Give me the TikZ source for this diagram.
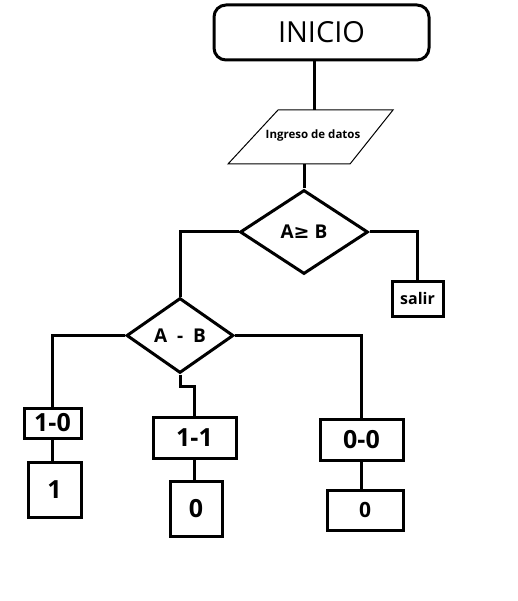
\documentclass[tikz,border=0pt]{standalone}
\usepackage{fontspec}
\setmainfont{Open Sans}
\newfontfamily\symfont{DejaVu Sans}
\usetikzlibrary{shapes.geometric}
\begin{document}
\begin{tikzpicture}[x=1pt,y=-1pt,line width=3pt,
	caja/.style={draw,rectangle,inner sep=0pt,font=\bfseries\fontsize{25}{25}\selectfont},
	rombo/.style={draw,diamond,inner sep=0pt,font=\bfseries\fontsize{19}{19}\selectfont}]
			\useasboundingbox (0,0) rectangle (517,601);
			\node[draw,rounded corners=12pt,minimum width=215pt,minimum height=55pt,font=\fontsize{29}{29}\selectfont] (inicio) at (321.5,32.5) {INICIO};
			\draw[line width=1pt] (278,110) -- (393,110) -- (350,164) -- (228,164) -- cycle;
			\coordinate (dtop) at (314,110);
			\coordinate (dbot) at (304,164);
			\node[font=\bfseries\fontsize{11.5}{11.5}\selectfont] (datos) at (313,136) {Ingreso de datos};
			\node[rombo,minimum width=128pt,minimum height=84pt] (amayor) at (304,232) {A{\symfont ≥} B};
			\node[caja,minimum width=51pt,minimum height=35pt,font=\bfseries\fontsize{16}{16}\selectfont] (salir) at (417.5,298.5) {salir};
			\node[rombo,minimum width=107pt,minimum height=75pt] (amenos) at (180,335.5) {A\ \ -\ \ B};
			\node[caja,minimum width=57pt,minimum height=30pt] (c10) at (52.5,423) {1-0};
			\node[caja,minimum width=53pt,minimum height=55pt] (r1) at (54.5,489.5) {1};
			\node[caja,minimum width=83pt,minimum height=41pt] (c11) at (194.5,437.5) {1-1};
			\node[caja,minimum width=52pt,minimum height=55pt] (r2) at (196,508.5) {0};
			\node[caja,minimum width=83pt,minimum height=41pt] (c00) at (361.5,439.5) {0-0};
			\node[caja,minimum width=76pt,minimum height=40pt,font=\bfseries\fontsize{21}{21}\selectfont] (r3) at (365,510) {0};
			\draw (inicio.south -| dtop) -- (dtop);
			\draw (dbot) -- (amayor.north);
			\draw (amayor.west) -| (amenos.north);
			\draw (amayor.east) -| (salir.north);
			\draw (amenos.west) -| (c10.north);
			\draw (amenos.south) -- ++(0,12) -| (c11.north);
			\draw (amenos.east) -| (c00.north);
			\draw (c10.south) -- (c10.south |- r1.north);
			\draw (c11.south) -- (c11.south |- r2.north);
			\draw (c00.south) -- (c00.south |- r3.north);
		\end{tikzpicture}
\end{document}
